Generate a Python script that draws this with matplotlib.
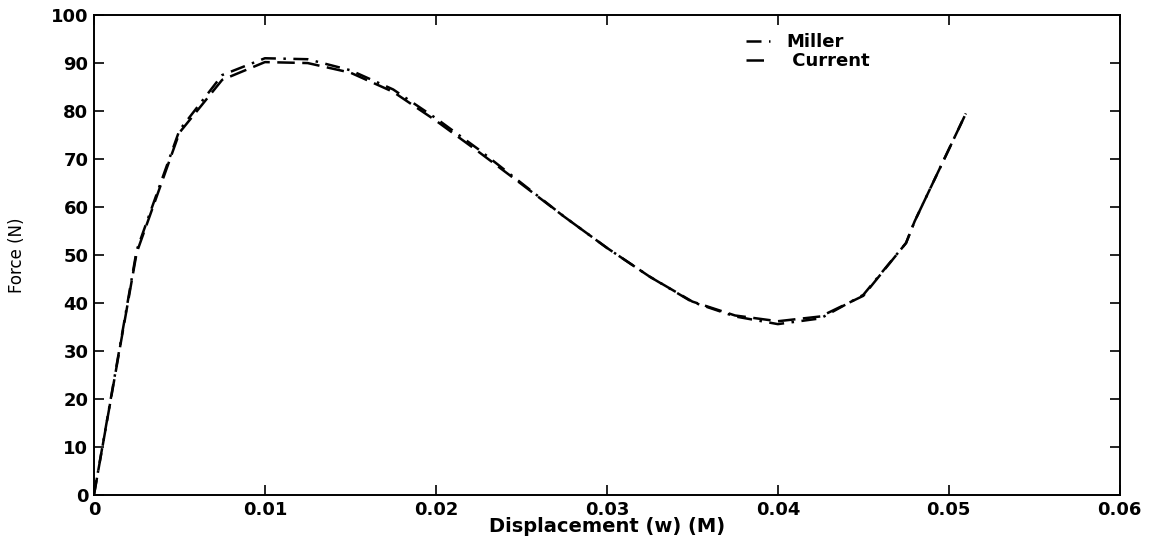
#Force vs displacement - Miller vs Current
import matplotlib.pyplot as plt

x = [0, 0.0025, 0.005, 0.0075, 0.01, 0.0125, 0.015, 0.0175, 0.02, 0.0225,
     0.025, 0.0275, 0.03, 0.0325, 0.035, 0.0375, 0.04, 0.0425, 0.045,
     0.0475, 0.048, 0.05, 0.051]
miller = [0, 51, 76, 87.5, 91, 90.8, 88.5, 84.5, 78.5, 72,
          65, 58, 51.5, 45.5, 40.2, 37.2, 35.6, 36.8, 41.7,
          52.5, 57, 72, 79.5]
current = [0, 50.5, 75.5, 86.5, 90.2, 90, 88, 84, 78, 71.5,
           64.8, 58, 51.5, 45.5, 40.3, 37.4, 36.2, 37.2, 41.5,
           52.5, 57, 72, 79.5]

xticks = [0, 0.01, 0.02, 0.03, 0.04, 0.05, 0.06]
xlabels = ["0", "0.01", "0.02", "0.03", "0.04", "0.05", "0.06"]
yticks = list(range(0, 101, 10))

plt.rcParams['font.family'] = ['DejaVu Sans']
fig = plt.figure(figsize=(11.5, 5.38), dpi=100)
ax = fig.add_axes([0.0817, 0.080, 0.892, 0.892])

ax.plot(x, miller, color="k", linestyle=(0, (6, 3, 1, 3)), linewidth=1.8, label="Miller")
ax.plot(x, current, color="k", linestyle=(0, (7, 3)), linewidth=1.8, label=" Current")

ax.set_xlim(0, 0.06)
ax.set_ylim(0, 100)
ax.set_xticks(xticks)
ax.set_xticklabels(xlabels)
ax.set_yticks(yticks)
ax.tick_params(direction="in", top=True, right=True, length=7, width=1.2,
               labelsize=13, pad=4)
for lbl in ax.get_xticklabels() + ax.get_yticklabels():
    lbl.set_fontweight("bold")
for s in ax.spines.values():
    s.set_linewidth(1.4)

ax.set_xlabel("Displacement (w) (M)", fontsize=14, fontweight="bold", labelpad=-1)
ax.set_ylabel("Force (N)", fontsize=12)
ax.yaxis.set_label_coords(-0.066, 0.5)

ax.legend(loc="upper left", bbox_to_anchor=(0.62, 0.996), frameon=False,
          handlelength=1.3, prop={"size": 13, "weight": "bold"},
          labelspacing=0.05, handletextpad=0.9)

plt.savefig("out.png", dpi=100)
